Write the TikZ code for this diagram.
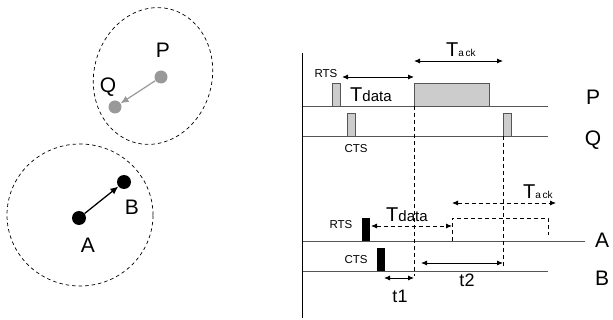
\documentclass[tikz,border=0pt]{standalone}
\usepackage{fontspec}
\setmainfont{Liberation Sans}
\usetikzlibrary{arrows.meta}
\definecolor{lgray}{HTML}{CCCCCC}
\definecolor{mgray}{HTML}{999999}
\definecolor{dgray}{HTML}{555555}
\begin{document}
\begin{tikzpicture}[x=1pt,y=-1pt,
  big/.style={font=\fontsize{21}{21}\selectfont, inner sep=0pt},
  small/.style={font=\fontsize{11.5}{12}\selectfont, inner sep=0pt},
  tl/.style={draw=dgray, line width=0.9pt},
  vdash/.style={draw=black, line width=0.8pt, dash pattern=on 4pt off 3pt},
  harr/.style={line width=0.9pt, {Latex[length=6pt,width=5pt]}-{Latex[length=6pt,width=5pt]}},
  hdarr/.style={line width=0.8pt, dash pattern=on 4pt off 3pt, {Latex[length=6pt,width=5pt]}-{Latex[length=6pt,width=5pt]}},
  gbox/.style={draw=dgray, fill=lgray, line width=0.6pt},
  gdot/.style={circle, fill=mgray, minimum size=13pt, inner sep=0pt},
  bdot/.style={circle, fill=black, minimum size=14pt, inner sep=0pt},
  rangeline/.style={draw=black, line width=0.7pt, dash pattern=on 3.5pt off 3pt}
]
\useasboundingbox (0,0) rectangle (613,320);

% ---------- left part ----------
\draw[rangeline, rotate around={-15:(153,76)}] (153,76) ellipse (59pt and 69pt);
\draw[rangeline] (80,215) ellipse (73pt and 71pt);

\node[gdot] (p) at (161,77) {};
\node[gdot] (q) at (115,107) {};
\draw[mgray, line width=1.2pt, -{Latex[length=8pt,width=7pt]}] (p) -- (q);
\node[big] (pl) at (163,50) {P};
\node[big] (ql) at (108,87) {Q};

\node[bdot] (a) at (79,218) {};
\node[bdot] (b) at (124,182) {};
\draw[black, line width=1.3pt, -{Latex[length=8pt,width=7pt]}] (a) -- (b);
\node[big] (al) at (88,245) {A};
\node[big] (bl) at (132,207) {B};

% ---------- right part ----------
\coordinate (ax0) at (302.5,53);
\coordinate (ax1) at (302.5,318);
\draw[black, line width=1.1pt] (ax0) -- (ax1);

\coordinate (P0) at (302.5,106); \coordinate (P1) at (548,106);
\coordinate (Q0) at (302.5,136); \coordinate (Q1) at (548,136);
\coordinate (A0) at (302.5,241); \coordinate (A1) at (585,241);
\coordinate (B0) at (302.5,271); \coordinate (B1) at (548,271);
\draw[tl] (P0) -- (P1);
\draw[tl] (Q0) -- (Q1);
\draw[tl] (A0) -- (A1);
\draw[tl] (B0) -- (B1);

\node[big] (Plab) at (593,97) {P};
\node[big] (Qlab) at (593,140) {Q};
\node[big] (Alab) at (602,240) {A};
\node[big] (Blab) at (602,278) {B};

% P/Q boxes
\draw[gbox] (332,83) rectangle (340,106);
\draw[gbox] (347,113) rectangle (355,136);
\draw[gbox] (503,113) rectangle (511,136);
\draw[gbox] (414,83) rectangle (489,106);

\node[small] (rts1) at (326,74) {RTS};
\node[small] (cts1) at (356,149) {CTS};

% Tdata (top)
\coordinate (td0) at (342,77); \coordinate (td1) at (414,77);
\draw[harr] (td0) -- (td1);
\node[inner sep=0pt, anchor=base west] (tdl) at (350,102) {{\fontsize{20}{20}\selectfont T}{\fontsize{15}{15}\selectfont data}};

% Tack (top)
\coordinate (ta0) at (414,61); \coordinate (ta1) at (503,61);
\draw[harr] (ta0) -- (ta1);
\node[inner sep=0pt, anchor=base west] (tal) at (446,57) {{\fontsize{20}{20}\selectfont T}{\fontsize{10}{10}\selectfont a\,ck}};

% vertical dashed lines
\coordinate (v1a) at (414,106); \coordinate (v1b) at (414,276);
\coordinate (v2a) at (503,136); \coordinate (v2b) at (503,268);
\draw[vdash] (v1a) -- (v1b);
\draw[vdash] (v2a) -- (v2b);

% A/B boxes
\fill[black] (362,218) rectangle (370,241);
\fill[black] (377,248) rectangle (385,271);
\node[small] (rts2) at (341,225) {RTS};
\node[small] (cts2) at (356,260) {CTS};

% Tdata (bottom, dashed)
\coordinate (tdb0) at (371,226); \coordinate (tdb1) at (452,226);
\draw[hdarr] (tdb0) -- (tdb1);
\node[inner sep=0pt, anchor=base west] (tdbl) at (386,222) {{\fontsize{20}{20}\selectfont T}{\fontsize{15}{15}\selectfont data}};

% dashed frame
\coordinate (f0) at (452,241); \coordinate (f1) at (452,218);
\coordinate (f2) at (548,218); \coordinate (f3) at (548,235);
\draw[vdash] (f0) -- (f1) -- (f2) -- (f3);

% Tack (bottom, dashed)
\coordinate (tab0) at (452,203); \coordinate (tab1) at (556,203);
\draw[hdarr] (tab0) -- (tab1);
\node[inner sep=0pt, anchor=base west] (tabl) at (523,199) {{\fontsize{20}{20}\selectfont T}{\fontsize{10}{10}\selectfont a\,ck}};

% t2
\coordinate (t20) at (421,263); \coordinate (t21) at (503,263);
\draw[harr] (t20) -- (t21);
\node[font=\fontsize{18}{18}\selectfont, inner sep=0pt] (t2l) at (467,280) {t2};

% t1
\coordinate (t10) at (384,278); \coordinate (t11) at (414,278);
\draw[harr] (t10) -- (t11);
\node[font=\fontsize{18}{18}\selectfont, inner sep=0pt] (t1l) at (400,296) {t1};

\end{tikzpicture}
\end{document}
